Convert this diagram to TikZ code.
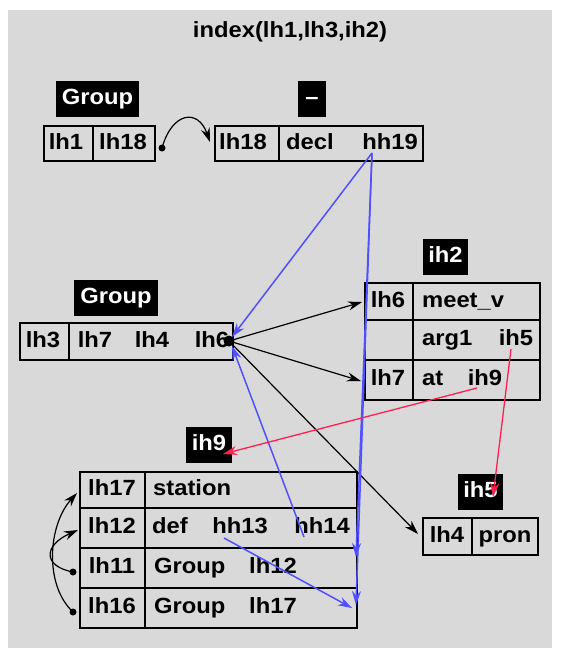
\documentclass[tikz,border=0pt]{standalone}
\usepackage{fontspec}
\setmainfont{Liberation Sans}[FakeStretch=1.08]
\usetikzlibrary{arrows.meta,positioning}

\definecolor{panelgrey}{HTML}{D9D9D9}
\definecolor{linkblue}{HTML}{5050FF}
\definecolor{linkred}{HTML}{FF2050}

\tikzset{
    txt/.style={font=\fontsize{22}{24}\selectfont\bfseries, inner sep=0pt, text height=15pt, text depth=4pt},
    tag/.style={txt, fill=black, text=white, minimum height=36pt},
    tbl/.style={line width=1.3pt},
    arr/.style={line width=1.2pt, -{Stealth[length=14pt,width=9pt]}},
    bluearr/.style={arr, draw=linkblue, line width=1.5pt},
    redarr/.style={arr, draw=linkred, line width=1.3pt},
}

\begin{document}
\begin{tikzpicture}[x=1pt,y=-1pt]
    \useasboundingbox (0,0) rectangle (560,648);
    \fill[panelgrey] (8,10) rectangle (552,648);
    \node[txt] (title) at (290,32) {index(lh1,lh3,ih2)};

    % Group lh1 lh18
    \node[tag, minimum width=83pt] (grpa) at (97.5,98.5) {Group};
    \draw[tbl] (44,126) rectangle (155,161); \draw[tbl] (93,126) -- (93,161);
    \node[txt] (lha) at (66,143.5) {lh1};
    \node[txt] (lhb) at (123,143.5) {lh18};
    \coordinate (dotb) at (162,148);

    % decl
    \node[tag, minimum width=28pt] (dash) at (312,98.5) {--};
    \draw[tbl] (215,126) rectangle (423,161); \draw[tbl] (279,126) -- (279,161);
    \node[txt] (lhc) at (243,143.5) {lh18};
    \node[txt] (decl) at (310,143.5) {decl};
    \node[txt] (hhn) at (390,143.5) {hh19};
    \coordinate (hhs) at (372,153);

    % ih2
    \node[tag, minimum width=45pt] (ihb) at (445.5,257) {ih2};
    \draw[tbl] (365,283) rectangle (540,400); \draw[tbl] (413,283) -- (413,400);
    \draw[tbl] (365,320) -- (540,320); \draw[tbl] (365,360) -- (540,360);
    \node[txt] (lhf) at (388,301.5) {lh6};
    \node[txt, anchor=west] (meet) at (422,301.5) {meet\_v};
    \node[txt, anchor=west] (arga) at (422,340) {arg1};
    \node[txt] (ihe) at (516,340) {ih5};
    \node[txt] (lhg) at (388,380) {lh7};
    \node[txt, anchor=west] (at) at (422,380) {at};
    \node[txt] (ihn) at (485,380) {ih9};

    % Group lh3
    \node[tag, minimum width=84pt] (grpb) at (116,297.5) {Group};
    \draw[tbl] (20,323) rectangle (233,360); \draw[tbl] (69,323) -- (69,360);
    \node[txt] (lhd) at (43,341.5) {lh3};
    \node[txt] (lhh) at (95,341.5) {lh7};
    \node[txt] (lhi) at (152,341.5) {lh4};
    \node[txt] (lhj) at (212,341.5) {lh6};
    \coordinate (dotj) at (229,341);

    % ih9
    \node[tag, minimum width=46pt] (ihc) at (209,445) {ih9};
    \draw[tbl] (80,472) rectangle (357,628); \draw[tbl] (145,472) -- (145,628);
    \draw[tbl] (80,508) -- (357,508); \draw[tbl] (80,548) -- (357,548); \draw[tbl] (80,588) -- (357,588);
    \node[txt] (lhq) at (112,490) {lh17};
    \node[txt, anchor=west] (stat) at (153,490) {station};
    \node[txt] (lhl) at (112,528) {lh12};
    \node[txt, anchor=west] (def) at (152,528) {def};
    \node[txt] (hhc) at (240,528) {hh13};
    \node[txt] (hhd) at (322,528) {hh14};
    \node[txt] (lhk) at (112,568) {lh11};
    \node[txt, anchor=west] (grpc) at (154,568) {Group};
    \node[txt] (lhm) at (273,568) {lh12};
    \node[txt] (lhp) at (112,608) {lh16};
    \node[txt, anchor=west] (grpd) at (154,608) {Group};
    \node[txt] (lhr) at (273,608) {lh17};
    \coordinate (dotk) at (73,572);
    \coordinate (dotp) at (73,612);

    % ih5
    \node[tag, minimum width=45pt] (ihd) at (480.5,492) {ih5};
    \draw[tbl] (423,518) rectangle (538,555); \draw[tbl] (472,518) -- (472,555);
    \node[txt] (lhe) at (447,536.5) {lh4};
    \node[txt] (pron) at (505,536.5) {pron};

    % black links
    \fill (dotb) circle (3.5);
    \draw[arr] (dotb) .. controls (172,112) and (198,108) .. (210,142);
    \fill (dotj) circle (5.5);
    \draw[arr] (dotj) -- (362,302);
    \draw[arr] (dotj) -- (361,381);
    \draw[arr] (dotj) -- (418,534);
    \fill (dotk) circle (3.5);
    \fill (dotp) circle (3.5);
    \draw[arr] (dotk) .. controls (42,566) and (44,545) .. (78,530);
    \draw[arr] (dotp) .. controls (44,585) and (48,525) .. (77,493);

    % blue links
    \draw[bluearr] (hhs) -- (232,337);
    \draw[bluearr] (304,537) -- (232,346);
    \draw[bluearr] (hhs) -- (356,557);
    \draw[bluearr] (hhs) -- (356,605);
    \draw[bluearr] (224,538) -- (352,608);

    % red links
    \draw[redarr] (477,388) -- (223,454);
    \draw[redarr] (511,349) -- (493,497);
\end{tikzpicture}
\end{document}
